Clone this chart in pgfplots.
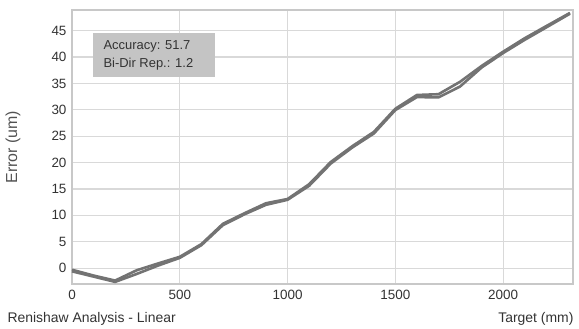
\documentclass[border=0pt]{standalone}
\usepackage{pgfplots}
\pgfplotsset{compat=1.18}
\usepackage{fontspec}
\setmainfont{Liberation Sans}
\definecolor{txt}{HTML}{333333}
\definecolor{gridc}{HTML}{D9D9D9}
\definecolor{framec}{HTML}{C8C8C8}
\definecolor{linec}{HTML}{737373}
\definecolor{boxc}{HTML}{C4C4C4}
\begin{document}
\begin{tikzpicture}
\begin{axis}[
  scale only axis,
  width=501bp, height=274bp,
  xmin=0, xmax=2324, ymin=-3.0, ymax=48.9,
  xtick={0,500,1000,1500,2000},
  ytick={0,5,10,15,20,25,30,35,40,45},
  major tick length=0pt,
  grid=major,
  major grid style={draw=gridc, line width=1.3bp},
  axis line style={draw=framec, line width=2.2bp},
  /pgf/number format/assume math mode=true,
  /pgf/number format/1000 sep={},
  tick label style={font=\fontsize{13.5}{15}\selectfont, text=txt},
  xticklabel style={yshift=-3bp},
  yticklabel style={xshift=-2bp},
  clip=false,
]
\addplot[linec, line width=2.6bp, line join=round] coordinates {
(0,-0.3) (100,-1.4) (200,-2.35) (300,-0.4) (400,0.9) (500,2.15) (600,4.55) (700,8.4) (800,10.4) (900,12.3) (1000,13.1) (1100,15.9) (1200,20.1) (1300,23.1) (1400,25.8) (1500,30.2) (1600,32.8) (1700,32.95) (1800,35.3) (1900,38.3) (2000,41.0) (2100,43.55) (2200,45.85) (2310,48.35)
};
\addplot[linec, line width=2.6bp, line join=round] coordinates {
(0,-0.6) (100,-1.6) (200,-2.6) (300,-1.1) (400,0.5) (500,1.95) (600,4.35) (700,8.15) (800,10.2) (900,12.0) (1000,12.95) (1100,15.6) (1200,19.8) (1300,22.85) (1400,25.5) (1500,29.95) (1600,32.4) (1700,32.35) (1800,34.4) (1900,38.0) (2000,40.75) (2100,43.25) (2200,45.6) (2310,48.2)
};
\end{axis}
% annotation box
\fill[boxc] (21bp,207bp) rectangle (143bp,251bp);
\node[anchor=west, text=txt, font=\fontsize{13}{15}\selectfont] at (28bp,238bp) {Accuracy: 51.7};
\node[anchor=west, text=txt, font=\fontsize{13}{15}\selectfont] at (28bp,220bp) {Bi-Dir Rep.: 1.2};
% labels
\node[rotate=90, text=txt!85, font=\fontsize{16}{18}\selectfont] at (-59bp,137bp) {Error (um)};
\node[anchor=west, text=txt, font=\fontsize{14}{16}\selectfont] at (-68bp,-35bp) {Renishaw Analysis - Linear};
\node[anchor=east, text=txt, font=\fontsize{14}{16}\selectfont] at (505bp,-35bp) {Target (mm)};
\path (-72bp,-45bp) rectangle (507bp,284bp);
\end{tikzpicture}
\end{document}
